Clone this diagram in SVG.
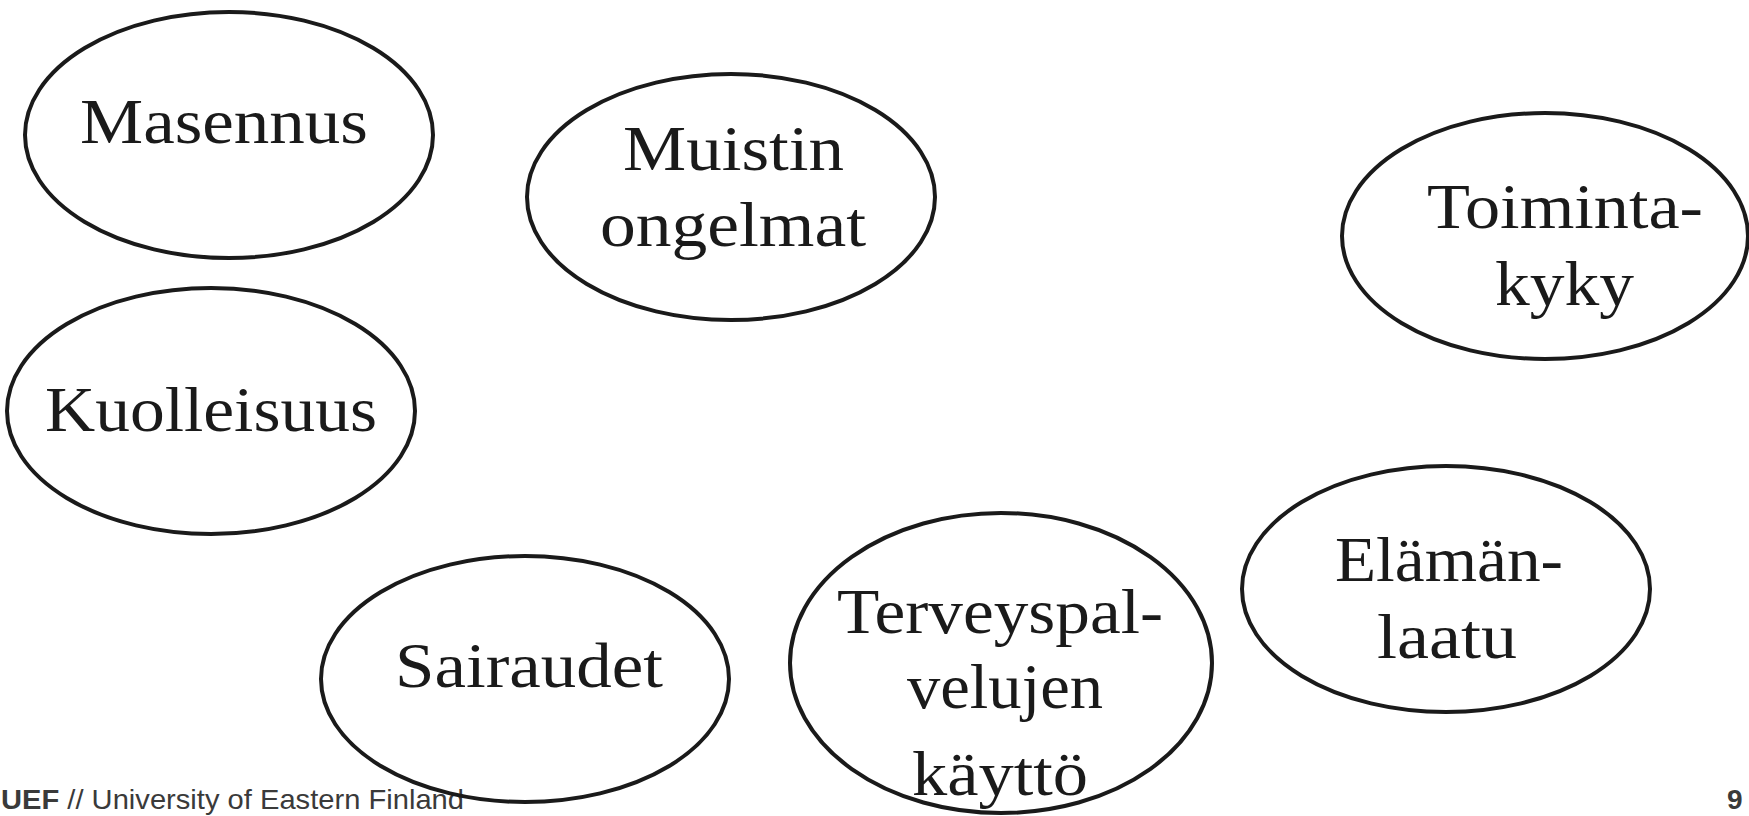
<svg xmlns="http://www.w3.org/2000/svg" width="1749" height="816" viewBox="0 0 1749 816">
  <style>
    .bubble { fill: none; stroke: #1a1a1a; stroke-width: 4; }
    .label { font-family: "Liberation Serif", "DejaVu Serif", serif; font-size: 64px; fill: #1a1a1a; }
    .foot { font-family: "Liberation Sans", Arial, sans-serif; font-size: 28px; fill: #3a3a3a; }
  </style>
  <rect x="0" y="0" width="1749" height="816" fill="#ffffff"/>

  <!-- footer -->
  <g id="footer">
    <text class="foot" x="1" y="809" textLength="463" lengthAdjust="spacingAndGlyphs"><tspan font-weight="bold">UEF</tspan> // University of Eastern Finland</text>
    <text class="foot" x="1727" y="809" font-weight="bold" font-size="27">9</text>
  </g>

  <!-- no connectors in this figure -->
  <g id="connectors"/>

  <g id="masennus">
    <ellipse class="bubble" cx="229" cy="135" rx="204" ry="123"/>
    <text class="label" x="80" y="143" textLength="288" lengthAdjust="spacingAndGlyphs">Masennus</text>
  </g>

  <g id="muistin-ongelmat">
    <ellipse class="bubble" cx="731" cy="197" rx="204" ry="123"/>
    <text class="label" x="623" y="170" textLength="221" lengthAdjust="spacingAndGlyphs">Muistin</text>
    <text class="label" x="600" y="246" textLength="266" lengthAdjust="spacingAndGlyphs">ongelmat</text>
  </g>

  <g id="toimintakyky">
    <ellipse class="bubble" cx="1545" cy="236" rx="203" ry="123"/>
    <text class="label" x="1427" y="228" textLength="276" lengthAdjust="spacingAndGlyphs">Toiminta-</text>
    <text class="label" x="1495" y="305" textLength="139" lengthAdjust="spacingAndGlyphs">kyky</text>
  </g>

  <g id="kuolleisuus">
    <ellipse class="bubble" cx="211" cy="411" rx="204" ry="123"/>
    <text class="label" x="45" y="431" textLength="332" lengthAdjust="spacingAndGlyphs">Kuolleisuus</text>
  </g>

  <g id="sairaudet">
    <ellipse class="bubble" cx="525" cy="679" rx="204" ry="123"/>
    <text class="label" x="395" y="687" textLength="268" lengthAdjust="spacingAndGlyphs">Sairaudet</text>
  </g>

  <g id="terveyspalvelujen-kaytto">
    <ellipse class="bubble" cx="1001" cy="663" rx="211" ry="150"/>
    <text class="label" x="837" y="633" textLength="326" lengthAdjust="spacingAndGlyphs">Terveyspal-</text>
    <text class="label" x="907" y="708" textLength="196" lengthAdjust="spacingAndGlyphs">velujen</text>
    <text class="label" x="912" y="795" textLength="176" lengthAdjust="spacingAndGlyphs">käyttö</text>
  </g>

  <g id="elamanlaatu">
    <ellipse class="bubble" cx="1446" cy="589" rx="204" ry="123"/>
    <text class="label" x="1335" y="581" textLength="228" lengthAdjust="spacingAndGlyphs">Elämän-</text>
    <text class="label" x="1377" y="658" textLength="140" lengthAdjust="spacingAndGlyphs">laatu</text>
  </g>
</svg>
